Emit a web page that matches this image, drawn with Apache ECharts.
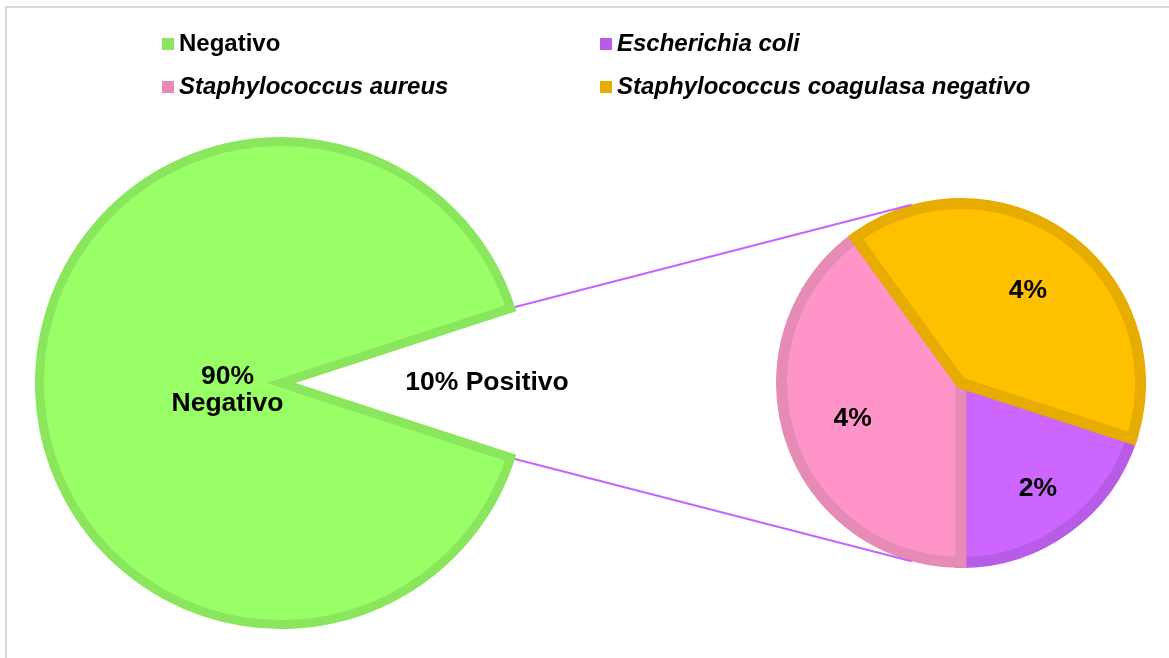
<!DOCTYPE html>
<html>
<head>
<meta charset="utf-8">
<script src="https://cdn.jsdelivr.net/npm/echarts@6/dist/echarts.min.js"></script>
<style>
  html, body { margin: 0; padding: 0; background: #ffffff; }
  #chart { width: 1169px; height: 658px; }
</style>
</head>
<body>
<div id="chart"></div>
<script>
// Overall result of the cultures (%)
const mainNames = ['Negativo', 'Positivo'];
const mainValues = [90, 10];

// Breakdown of the positive share by organism (%)
const detailNames = ['Escherichia coli', 'Staphylococcus aureus', 'Staphylococcus coagulasa negativo'];
const detailValues = [2, 4, 4];

// Legend layout: two rows, two columns
const legendRows = [
  ['Negativo', 'Escherichia coli'],
  ['Staphylococcus aureus', 'Staphylococcus coagulasa negativo']
];

// Fill and outline colours per slice
const fillColors = {
  'Negativo': '#99FF66',
  'Escherichia coli': '#CC66FF',
  'Staphylococcus aureus': '#FF94C8',
  'Staphylococcus coagulasa negativo': '#FFC000'
};
const edgeColors = {
  'Negativo': '#8AE65C',
  'Escherichia coli': '#B85BE6',
  'Staphylococcus aureus': '#E68AB6',
  'Staphylococcus coagulasa negativo': '#E6AC00'
};

// Geometry of the two pies
const BIG = { cx: 281, cy: 383, r: 241.5, border: 9 };
const SMALL = { cx: 961, cy: 383, r: 179.5, border: 11 };
const CONNECT_ANGLE = 105.5; // where the connectors meet the detail pie (deg)
const FONT = '"Liberation Sans", Arial, sans-serif';

const mainTotal = mainValues.reduce((a, b) => a + b, 0);
const detailTotal = detailValues.reduce((a, b) => a + b, 0);
// Positive wedge centred on the right-hand side
const gapHalf = mainValues[1] / mainTotal * 360 / 2;
const bigStart = -gapHalf;
// First detail slice ends straight down
const smallStart = -90 + detailValues[0] / detailTotal * 360;

const labelText = {
  fontFamily: FONT, fontSize: 26.5, fontWeight: 'bold', color: '#000000'
};

const mainData = mainNames.map((n, i) => ({
  name: n,
  value: mainValues[i],
  itemStyle: i === 0
    ? { color: fillColors[n], borderColor: edgeColors[n], borderWidth: BIG.border, borderJoin: 'miter' }
    : { color: 'rgba(0,0,0,0)', borderWidth: 0 }
}));

const detailData = detailNames.map((n, i) => ({
  name: n,
  value: detailValues[i],
  itemStyle: { color: fillColors[n], borderColor: edgeColors[n], borderWidth: SMALL.border, borderJoin: 'miter' }
}));

// Transparent copies used only to place the labels
function labelData(names, values, showIdx) {
  return names.map((n, i) => ({
    name: n,
    value: values[i],
    itemStyle: { color: 'rgba(0,0,0,0)', borderWidth: 0 },
    label: { show: showIdx.indexOf(i) >= 0 }
  }));
}

function labelSeries(center, radius, startAngle, label, data) {
  return {
    type: 'pie',
    silent: true,
    clockwise: true,
    emphasis: { disabled: true },
    labelLine: { show: false },
    z: 5,
    center: center,
    radius: radius,
    startAngle: startAngle,
    label: Object.assign({ position: 'inside' }, labelText, label),
    data: data
  };
}

const series = [
  {
    type: 'pie',
    name: 'main',
    center: [BIG.cx, BIG.cy],
    radius: [0, BIG.r],
    startAngle: bigStart,
    clockwise: true,
    silent: true,
    emphasis: { disabled: true },
    label: { show: false },
    labelLine: { show: false },
    data: mainData
  },
  {
    type: 'pie',
    name: 'detail',
    center: [SMALL.cx, SMALL.cy],
    radius: [0, SMALL.r],
    startAngle: smallStart,
    clockwise: true,
    silent: true,
    emphasis: { disabled: true },
    label: { show: false },
    labelLine: { show: false },
    data: detailData
  },
  labelSeries([BIG.cx, BIG.cy], [0, 101], bigStart,
    { formatter: '{gap|}\n{c}%\n{b}', lineHeight: 27, rich: { gap: { lineHeight: 15, fontSize: 1 } } },
    labelData(mainNames, mainValues, [0])),
  labelSeries([BIG.cx, BIG.cy], [160, 246], bigStart,
    { formatter: '{c}% {b}' },
    labelData(mainNames, mainValues, [1])),
  labelSeries([SMALL.cx, SMALL.cy], [0, 222], smallStart,
    { formatter: '{c}%' },
    labelData(detailNames, detailValues, [1, 2])),
  labelSeries([SMALL.cx, SMALL.cy], [0, 256], smallStart,
    { formatter: '{c}%' },
    labelData(detailNames, detailValues, [0]))
];

// One legend block per entry, laid out in a 2x2 grid
const legendCols = [162, 600];
const legendRowCenters = [44, 87];
const legends = [];
legendRows.forEach((row, r) => {
  row.forEach((name, c) => {
    legends.push({
      left: legendCols[c],
      top: legendRowCenters[r] - 13,
      padding: 0,
      icon: 'rect',
      itemWidth: 12,
      itemHeight: 12,
      selectedMode: false,
      textStyle: {
        fontFamily: FONT,
        fontSize: 24,
        fontWeight: 'bold',
        fontStyle: name === 'Negativo' ? 'normal' : 'italic',
        color: '#000000',
        lineHeight: 26
      },
      data: [{ name: name, itemStyle: { color: edgeColors[name], borderWidth: 0 } }]
    });
  });
});

// Connector lines from the positive wedge to the detail pie
const rad = Math.PI / 180;
const bigOuter = BIG.r + BIG.border / 2;
const smallOuter = SMALL.r + SMALL.border / 2;
function bigPoint(sign) {
  return [BIG.cx + bigOuter * Math.cos(gapHalf * rad), BIG.cy - sign * bigOuter * Math.sin(gapHalf * rad)];
}
function smallPoint(sign) {
  return [SMALL.cx + smallOuter * Math.cos(CONNECT_ANGLE * rad), SMALL.cy - sign * smallOuter * Math.sin(CONNECT_ANGLE * rad)];
}
const a1 = bigPoint(1), b1 = smallPoint(1);
const a2 = bigPoint(-1), b2 = smallPoint(-1);

const chart = echarts.init(document.getElementById('chart'), null, { renderer: 'canvas' });
chart.setOption({
  backgroundColor: '#ffffff',
  animation: false,
  legend: legends,
  series: series,
  graphic: [
    {
      type: 'rect',
      silent: true,
      shape: { x: 6, y: 7, width: 1200, height: 700 },
      style: { fill: 'none', stroke: '#D9D9D9', lineWidth: 2 },
      z: 0
    },
    {
      type: 'line',
      silent: true,
      shape: { x1: a1[0], y1: a1[1], x2: b1[0], y2: b1[1] },
      style: { stroke: '#C266FF', lineWidth: 2 },
      z: 10
    },
    {
      type: 'line',
      silent: true,
      shape: { x1: a2[0], y1: a2[1], x2: b2[0], y2: b2[1] },
      style: { stroke: '#C266FF', lineWidth: 2 },
      z: 10
    }
  ]
});
</script>
</body>
</html>
